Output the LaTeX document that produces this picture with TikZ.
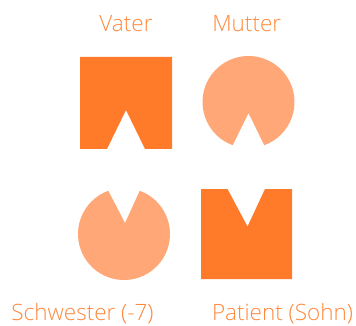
\documentclass[tikz,border=0pt]{standalone}
\usepackage{fontspec}
\setmainfont{Open Sans Light}
\usepackage{tikz}
\usetikzlibrary{positioning, calc}
\definecolor{darkorange}{RGB}{255,123,41}
\definecolor{lightorange}{RGB}{255,167,119}
\definecolor{textorange}{RGB}{255,136,60}
\tikzstyle{male} = [fill=darkorange]
\tikzstyle{female} = [fill=lightorange]
\tikzstyle{lbl} = [anchor=base, inner sep=0pt, text=textorange, font=\fontsize{22.5}{27}\selectfont]

\begin{document}
\begin{tikzpicture}[x=1pt, y=-1pt]
  \useasboundingbox (0,0) rectangle (356,326);

  % parents (top row)
  \coordinate (vater) at (126,103);
  \coordinate (mutter) at (248.5,102);
  \fill[male] ($(vater)+(-46,-46)$) -- ($(vater)+(46,-46)$) -- ($(vater)+(46,46)$)
    -- ($(vater)+(19,46)$) -- ($(vater)+(0,7)$) -- ($(vater)+(-19,46)$)
    -- ($(vater)+(-46,46)$) -- cycle;
  \fill[female] ($(mutter)+(0,11)$) -- ($(mutter)+(110:46)$)
    arc[start angle=110, end angle=430, radius=46] -- cycle;

  % children (bottom row)
  \coordinate (schwester) at (124,234);
  \coordinate (patient) at (246.5,234);
  \fill[female] ($(schwester)+(1,-11)$) -- ($(schwester)+(-70:46)$)
    arc[start angle=-70, end angle=250, radius=46] -- cycle;
  \fill[male] ($(patient)+(-45.5,-45)$) -- ($(patient)+(-19,-45)$) -- ($(patient)+(1,-7.5)$)
    -- ($(patient)+(18.5,-45)$) -- ($(patient)+(45.5,-45)$) -- ($(patient)+(45.5,45)$)
    -- ($(patient)+(-45.5,45)$) -- cycle;

  \node[lbl] (lvater) at (126,31.7) {Vater};
  \node[lbl] (lmutter) at (246.7,31.7) {Mutter};
  \node[lbl] (lschwester) at (82.5,320.5) {Schwester (-7)};
  \node[lbl] (lpatient) at (282.5,320.5) {Patient (Sohn)};
\end{tikzpicture}
\end{document}
